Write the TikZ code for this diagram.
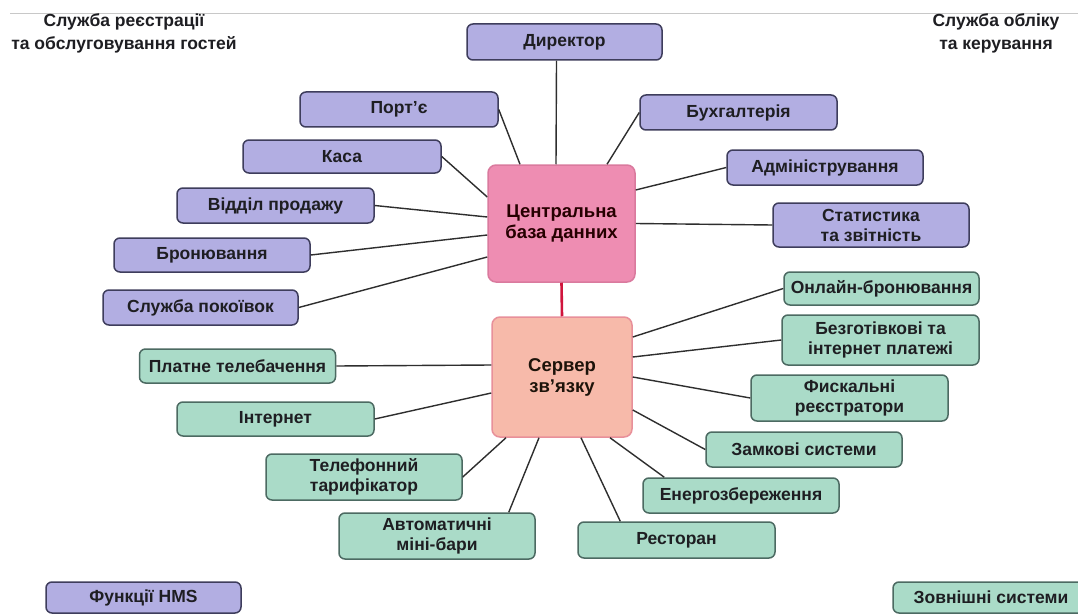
\documentclass[tikz,border=0pt]{standalone}
\usepackage{fontspec}
\setmainfont{Liberation Sans}
\definecolor{purp}{HTML}{B2AEE2}
\definecolor{purpB}{HTML}{3E3D5C}
\definecolor{grn}{HTML}{AADBC8}
\definecolor{grnB}{HTML}{4C6A62}
\definecolor{dbfill}{HTML}{EE8DB2}
\definecolor{dbB}{HTML}{DA7A9E}
\definecolor{srvfill}{HTML}{F7BAAA}
\definecolor{srvB}{HTML}{E8909A}
\definecolor{txt}{HTML}{1E1E22}
\definecolor{lineC}{HTML}{2E2E2E}
\definecolor{redC}{HTML}{D0143C}
\definecolor{topC}{HTML}{C8C8C8}
\begin{document}
\begin{tikzpicture}[x=1pt,y=-1pt,
  sz/.style 2 args={minimum width=#1pt, minimum height=#2pt},
  box/.style={draw, rounded corners=6pt, line width=1.5pt, align=center,
    font=\bfseries\fontsize{17.5}{20}\selectfont, inner sep=0pt, text=txt},
  fn/.style={box, draw=purpB, fill=purp},
  ext/.style={box, draw=grnB, fill=grn},
  hub/.style={box, rounded corners=8pt, font=\bfseries\fontsize{18.5}{21}\selectfont},
  conn/.style={draw=lineC, line width=1.4pt},
  lbl/.style={align=center, font=\bfseries\fontsize{17.5}{23}\selectfont, text=txt, inner sep=0pt}
]
\clip (0,0) rectangle (1078,615);
\fill[white] (0,0) rectangle (1078,615);
\draw[topC, line width=1pt] (10,14) -- (1078,14);

% corner labels
\node[lbl] (lt) at (124,33) {Служба реєстрації\\та обслуговування гостей};
\node[lbl] (rt) at (996,33) {Служба обліку\\та керування};

% hubs
\node[hub, draw=dbB, fill=dbfill, sz={147}{117}, text=black!85!red] (db) at (561.5,223.5) {Центральна\\база данних};
\node[hub, draw=srvB, fill=srvfill, sz={140}{120}, text=black!85!brown] (srv) at (562,377) {Сервер\\зв'язку};

% HMS functions
\node[fn, sz={195}{36}] (dir) at (564.5,42) {Директор};
\node[fn, sz={198}{35}] (port) at (399,109.5) {Порт'є};
\node[fn, sz={198}{33}] (kasa) at (342,156.5) {Каса};
\node[fn, sz={197}{35}] (vid) at (275.5,205.5) {Відділ продажу};
\node[fn, sz={196}{34}] (bron) at (212,255) {Бронювання};
\node[fn, sz={195}{35}] (pok) at (200.5,307.5) {Служба покоївок};
\node[fn, sz={197}{35}] (buh) at (738.5,112.5) {Бухгалтерія};
\node[fn, sz={196}{35}] (adm) at (825,167.5) {Адміністрування};
\node[fn, sz={196}{44}] (stat) at (871,225) {Статистика\\та звітність};
\node[fn, sz={195}{31}] (hms) at (143.5,597.5) {Функції HMS};

% external systems
\node[ext, sz={195}{33}] (online) at (881.5,288.5) {Онлайн-бронювання};
\node[ext, sz={197}{50}] (bezg) at (880.5,340) {Безготівкові та\\інтернет платежі};
\node[ext, sz={197}{46}] (fisk) at (849.5,398) {Фискальні\\реєстратори};
\node[ext, sz={196}{35}] (zamk) at (804,449.5) {Замкові системи};
\node[ext, sz={196}{35}] (energ) at (741,495.5) {Енергозбереження};
\node[ext, sz={197}{36}] (rest) at (676.5,540) {Ресторан};
\node[ext, sz={196}{34}] (plat) at (237.5,366) {Платне телебачення};
\node[ext, sz={197}{34}] (inet) at (275.5,419) {Інтернет};
\node[ext, sz={196}{46}] (tel) at (364,477) {Телефонний\\тарифікатор};
\node[ext, sz={196}{46}] (auto) at (437,536) {Автоматичні\\міні-бари};
\node[ext, sz={196}{31}] (zovn) at (991,597.5) {Зовнішні системи};

% connectors to the central database
\draw[conn] ([xshift=-8pt]dir.south) -- ([xshift=-5.5pt]db.north);
\draw[conn] (port.east) -- ([xshift=-41.5pt]db.north);
\draw[conn] (kasa.east) -- ([yshift=26.5pt]db.west);
\draw[conn] (vid.east) -- ([yshift=6.5pt]db.west);
\draw[conn] (bron.east) -- ([yshift=-11.5pt]db.west);
\draw[conn] (pok.east) -- ([yshift=-33.5pt]db.west);
\draw[conn] ([xshift=45.5pt]db.north) -- (buh.west);
\draw[conn] ([yshift=33.5pt]db.east) -- (adm.west);
\draw[conn] (db.east) -- (stat.west);

% connectors to the communication server
\draw[conn] ([yshift=40pt]srv.east) -- (online.west);
\draw[conn] ([yshift=20pt]srv.east) -- (bezg.west);
\draw[conn] (srv.east) -- (fisk.west);
\draw[conn] ([yshift=-33pt]srv.east) -- (zamk.west);
\draw[conn] ([xshift=48pt]srv.south) -- ([xshift=22pt]energ.north west);
\draw[conn] ([xshift=19pt]srv.south) -- ([xshift=43pt]rest.north west);
\draw[conn] ([xshift=-23pt]srv.south) -- ([xshift=-27pt]auto.north east);
\draw[conn] ([xshift=-56pt]srv.south) -- (tel.east);
\draw[conn] ([yshift=-16pt]srv.west) -- (inet.east);
\draw[conn] ([yshift=12pt]srv.west) -- (plat.east);

% database to server
\draw[redC, line width=2.6pt] (db.south) -- (srv.north);
\end{tikzpicture}
\end{document}
